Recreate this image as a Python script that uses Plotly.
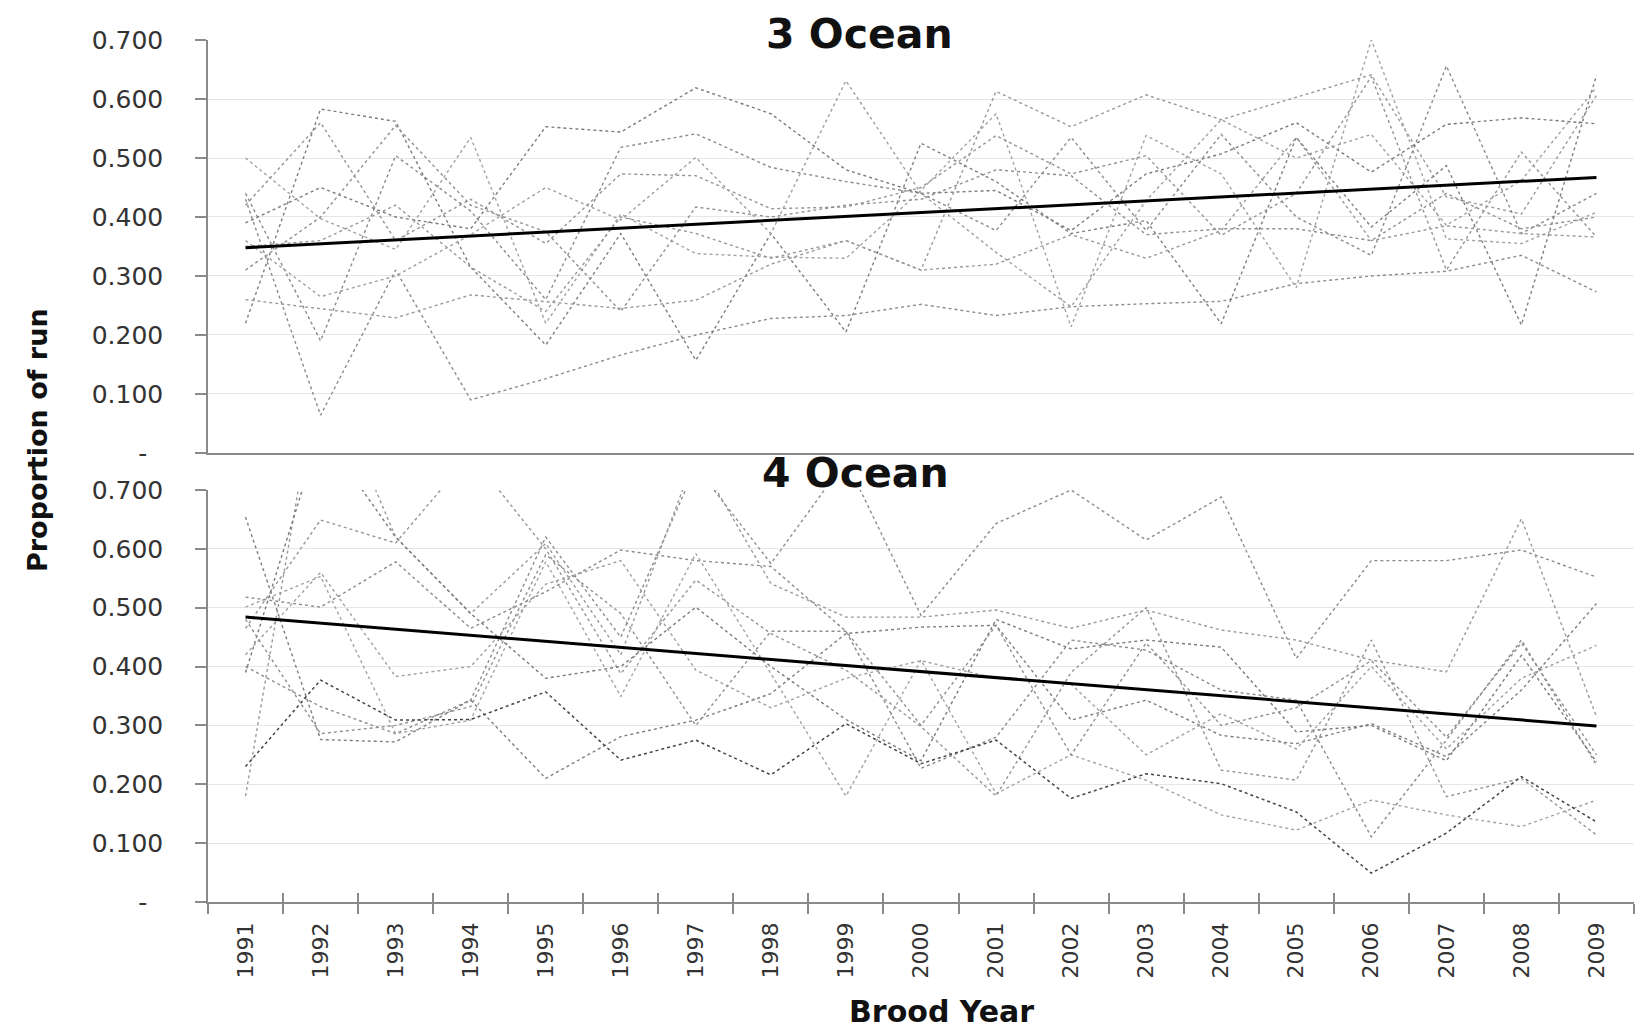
import plotly.graph_objects as go

years = [str(y) for y in range(1991, 2010)]

# 3 Ocean panel series (proportion of run)
ocean3_a = [0.43, 0.064, 0.31, 0.09, 0.126, 0.166, 0.20, 0.228, 0.233, 0.252, 0.233, 0.248, 0.253, 0.257, 0.287, 0.30, 0.308, 0.335, 0.273]
ocean3_b = [0.26, 0.245, 0.229, 0.268, 0.256, 0.245, 0.259, 0.32, 0.36, 0.31, 0.613, 0.553, 0.607, 0.565, 0.603, 0.641, 0.434, 0.405, 0.606]
ocean3_c = [0.22, 0.583, 0.562, 0.315, 0.183, 0.372, 0.157, 0.372, 0.205, 0.525, 0.46, 0.372, 0.394, 0.219, 0.535, 0.383, 0.487, 0.217, 0.64]
ocean3_d = [0.50, 0.397, 0.345, 0.535, 0.22, 0.405, 0.338, 0.332, 0.33, 0.445, 0.575, 0.214, 0.538, 0.473, 0.28, 0.70, 0.363, 0.355, 0.408]
ocean3_e = [0.44, 0.19, 0.504, 0.41, 0.26, 0.518, 0.541, 0.484, 0.46, 0.44, 0.377, 0.535, 0.377, 0.54, 0.40, 0.335, 0.656, 0.372, 0.44]
ocean3_f = [0.42, 0.56, 0.36, 0.43, 0.355, 0.473, 0.47, 0.414, 0.417, 0.45, 0.538, 0.473, 0.504, 0.369, 0.44, 0.638, 0.31, 0.51, 0.366]
ocean3_g = [0.39, 0.45, 0.40, 0.38, 0.553, 0.544, 0.619, 0.575, 0.48, 0.44, 0.445, 0.377, 0.473, 0.507, 0.56, 0.476, 0.557, 0.568, 0.558]
ocean3_h = [0.36, 0.265, 0.30, 0.37, 0.45, 0.395, 0.501, 0.372, 0.631, 0.44, 0.34, 0.248, 0.428, 0.565, 0.50, 0.54, 0.386, 0.462, 0.62]
ocean3_i = [0.31, 0.40, 0.555, 0.42, 0.375, 0.24, 0.417, 0.40, 0.42, 0.43, 0.48, 0.47, 0.37, 0.38, 0.38, 0.36, 0.44, 0.38, 0.40]
ocean3_j = [0.35, 0.36, 0.42, 0.315, 0.24, 0.40, 0.372, 0.33, 0.36, 0.31, 0.32, 0.37, 0.33, 0.377, 0.535, 0.36, 0.385, 0.372, 0.366]
ocean3_trend = [0.348, 0.467]

# 4 Ocean panel series
ocean4_dark = [0.23, 0.377, 0.309, 0.31, 0.357, 0.241, 0.275, 0.216, 0.303, 0.235, 0.275, 0.176, 0.218, 0.201, 0.153, 0.049, 0.117, 0.213, 0.136]
ocean4_a = [0.40, 0.332, 0.286, 0.343, 0.62, 0.45, 0.74, 0.575, 0.75, 0.487, 0.643, 0.70, 0.615, 0.688, 0.414, 0.58, 0.58, 0.598, 0.552]
ocean4_b = [0.18, 0.92, 0.62, 0.49, 0.609, 0.42, 0.76, 0.541, 0.484, 0.484, 0.496, 0.465, 0.496, 0.462, 0.445, 0.411, 0.391, 0.651, 0.315]
ocean4_c = [0.654, 0.276, 0.272, 0.343, 0.21, 0.281, 0.309, 0.354, 0.456, 0.467, 0.47, 0.309, 0.343, 0.283, 0.269, 0.303, 0.247, 0.36, 0.507]
ocean4_d = [0.501, 0.553, 0.286, 0.309, 0.578, 0.349, 0.592, 0.388, 0.18, 0.411, 0.184, 0.25, 0.207, 0.148, 0.122, 0.173, 0.148, 0.128, 0.173]
ocean4_e = [0.518, 0.501, 0.578, 0.465, 0.527, 0.598, 0.58, 0.57, 0.46, 0.227, 0.28, 0.445, 0.428, 0.36, 0.343, 0.111, 0.275, 0.445, 0.233]
ocean4_f = [0.465, 0.649, 0.61, 0.76, 0.60, 0.388, 0.547, 0.456, 0.394, 0.298, 0.18, 0.39, 0.50, 0.224, 0.207, 0.445, 0.179, 0.21, 0.114]
ocean4_g = [0.39, 0.80, 0.62, 0.49, 0.38, 0.40, 0.501, 0.40, 0.31, 0.24, 0.48, 0.43, 0.445, 0.433, 0.289, 0.30, 0.24, 0.419, 0.238]
ocean4_h = [0.42, 0.56, 0.383, 0.40, 0.54, 0.58, 0.394, 0.33, 0.38, 0.41, 0.38, 0.37, 0.25, 0.32, 0.26, 0.40, 0.26, 0.38, 0.436]
ocean4_i = [0.48, 0.286, 0.30, 0.332, 0.59, 0.49, 0.30, 0.46, 0.46, 0.30, 0.47, 0.25, 0.44, 0.30, 0.33, 0.41, 0.28, 0.44, 0.25]
ocean4_trend = [0.484, 0.299]

y_tick_vals = [0, 0.1, 0.2, 0.3, 0.4, 0.5, 0.6, 0.7]
y_tick_text = ["-\u00a0\u00a0", "0.100", "0.200", "0.300", "0.400", "0.500", "0.600", "0.700"]

top_series = [ocean3_a, ocean3_b, ocean3_c, ocean3_d, ocean3_e, ocean3_f, ocean3_g, ocean3_h, ocean3_i, ocean3_j]
bottom_series = [ocean4_a, ocean4_b, ocean4_c, ocean4_d, ocean4_e, ocean4_f, ocean4_g, ocean4_h, ocean4_i]
greys = ["#8c8c8c", "#9a9a9a", "#7f7f7f", "#a3a3a3", "#8a8a8a", "#959595", "#7a7a7a", "#a0a0a0", "#909090", "#999999"]

# Figure geometry (the page body adds an 8px margin on the top and left)
W, H = 1636, 1023
L, R, T, B = 200, 10, 32, 129
PW, PH = W - L - R, H - T - B

fig = go.Figure()
for i, s in enumerate(top_series):
    fig.add_trace(go.Scatter(x=years, y=s, mode="lines", xaxis="x", yaxis="y",
                             line=dict(color=greys[i % len(greys)], width=1.4, dash="dot"),
                             showlegend=False, hoverinfo="skip"))
fig.add_trace(go.Scatter(x=[years[0], years[-1]], y=ocean3_trend, mode="lines", xaxis="x", yaxis="y",
                         line=dict(color="black", width=3), showlegend=False))

for i, s in enumerate(bottom_series):
    fig.add_trace(go.Scatter(x=years, y=s, mode="lines", xaxis="x2", yaxis="y2",
                             line=dict(color=greys[i % len(greys)], width=1.4, dash="dot"),
                             showlegend=False, hoverinfo="skip"))
fig.add_trace(go.Scatter(x=years, y=ocean4_dark, mode="lines", xaxis="x2", yaxis="y2",
                         line=dict(color="#444444", width=1.5, dash="dot"),
                         showlegend=False, hoverinfo="skip"))
fig.add_trace(go.Scatter(x=[years[0], years[-1]], y=ocean4_trend, mode="lines", xaxis="x2", yaxis="y2",
                         line=dict(color="black", width=3), showlegend=False))
# invisible trace carrying the inner half of the cross tick marks
fig.add_trace(go.Scatter(x=years, y=[None] * len(years), mode="lines", xaxis="x3", yaxis="y2",
                         showlegend=False, hoverinfo="skip"))

axis_font = dict(family="DejaVu Sans", size=25, color="#333333")
common_y = dict(range=[0, 0.7], tickvals=y_tick_vals, ticktext=y_tick_text, showgrid=True,
                gridcolor="#e6e6e6", gridwidth=1, showline=True, linecolor="#8a8a8a", linewidth=1.5,
                ticks="outside", ticklen=11, tickcolor="#8a8a8a", tickwidth=1.5, zeroline=False,
                tickfont=axis_font, ticklabelstandoff=27)
common_x = dict(type="category", categoryorder="array", categoryarray=years, range=[-0.5, 18.5],
                showgrid=False, showline=True, linecolor="#8a8a8a", linewidth=1.5, zeroline=False)

fig.update_layout(
    width=W, height=H,
    margin=dict(l=L, r=R, t=T, b=B),
    paper_bgcolor="white", plot_bgcolor="white",
    xaxis=dict(domain=[0, 1], anchor="y", showticklabels=False, ticks="", **common_x),
    yaxis=dict(domain=[0.5209, 1], anchor="x", **common_y),
    xaxis2=dict(domain=[0, 1], anchor="y2", ticks="outside", tickson="boundaries", ticklen=10,
                tickcolor="#8a8a8a", tickwidth=1.5, tickangle=-90, ticklabelstandoff=10,
                tickfont=dict(family="DejaVu Sans", size=22, color="#333333"), **common_x),
    xaxis3=dict(domain=[0, 1], anchor="y2", overlaying="x2", ticks="inside", tickson="boundaries",
                ticklen=9, tickcolor="#8a8a8a", tickwidth=1.5, showticklabels=False,
                type="category", categoryorder="array", categoryarray=years, range=[-0.5, 18.5],
                showgrid=False, showline=False, zeroline=False),
    yaxis2=dict(domain=[0, 0.4780], anchor="x2", **common_y),
)

# annotations placed by figure pixel position (x, y) with the given vertical anchor
labels = [
    ("<b>3 Ocean</b>", 851, 0, 0, "top", dict(family="DejaVu Sans", size=41, color="#111111")),
    ("<b>4 Ocean</b>", 847, 465, 0, "middle", dict(family="DejaVu Sans", size=41, color="#111111")),
    ("<b>Proportion of run</b>", 29, 432, -90, "middle", dict(family="DejaVu Sans", size=27, color="#111111")),
    ("<b>Brood Year</b>", 933, 1004, 0, "middle", dict(family="DejaVu Sans", size=30, color="#111111")),
]
for text, px, py, ang, yanc, font in labels:
    fig.add_annotation(text=text, x=(px - L) / PW, y=(H - B - py) / PH, xref="paper", yref="paper",
                       showarrow=False, textangle=ang, font=font, xanchor="center", yanchor=yanc)

fig.write_html("out.html")
